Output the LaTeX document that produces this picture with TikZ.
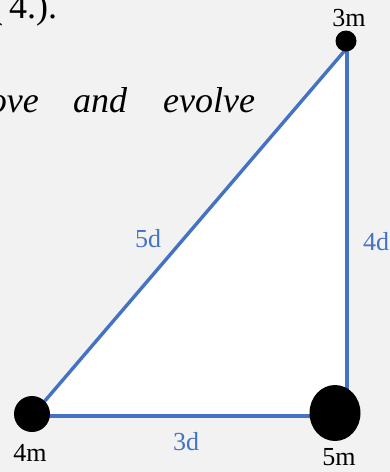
\documentclass[tikz,border=0pt]{standalone}
\usepackage{fontspec}
\setmainfont{Liberation Serif}
\definecolor{bg}{HTML}{F2F2F2}
\definecolor{edgeblue}{HTML}{4472C4}
\begin{document}
\begin{tikzpicture}[x=1pt,y=-1pt,
  edge/.style={draw=edgeblue,line width=3.4pt},
  mass/.style={fill=black,draw=none},
  mlabel/.style={font=\fontsize{26}{26}\selectfont,text=black,anchor=base,inner sep=0pt},
  dlabel/.style={font=\fontsize{26}{26}\selectfont,text=edgeblue,anchor=base,inner sep=0pt},
  bodytext/.style={font=\fontsize{36}{36}\selectfont\itshape,anchor=base west,inner sep=0pt}]
\useasboundingbox (0,0) rectangle (390,472);
\fill[bg] (0,0) rectangle (390,472);
\begin{scope}
\clip (0,0) rectangle (390,472);
\node[bodytext,font=\fontsize{36}{36}\selectfont] (t1) at (-9,18) {(\kern6pt4.).};
\node[bodytext,anchor=base east] (t2) at (39,112) {ove};
\node[bodytext] (t3) at (73,112) {and};
\node[bodytext] (t4) at (163,112) {evolve};
% triangle
\coordinate (A) at (32,416);
\coordinate (B) at (347,416);
\coordinate (C) at (347,48);
\fill[white] (A) -- (B) -- (C) -- cycle;
\draw[edge] (A) -- (B);
\draw[edge] (B) -- (C);
\draw[edge] (C) -- (A);
% masses
\fill[mass] (346,41) circle (10.5);
\fill[mass] (32,414) circle (18);
\fill[mass] (335,413) ellipse (25.5 and 28);
% labels
\node[mlabel] (l3m) at (349,26) {3m};
\node[mlabel] (l4m) at (30,461) {4m};
\node[mlabel] (l5m) at (339,465) {5m};
\node[dlabel] (l5d) at (148,247) {5d};
\node[dlabel,anchor=base west] (l4d) at (363,250) {4d};
\node[dlabel] (l3d) at (186,450) {3d};
\end{scope}
\end{tikzpicture}
\end{document}
